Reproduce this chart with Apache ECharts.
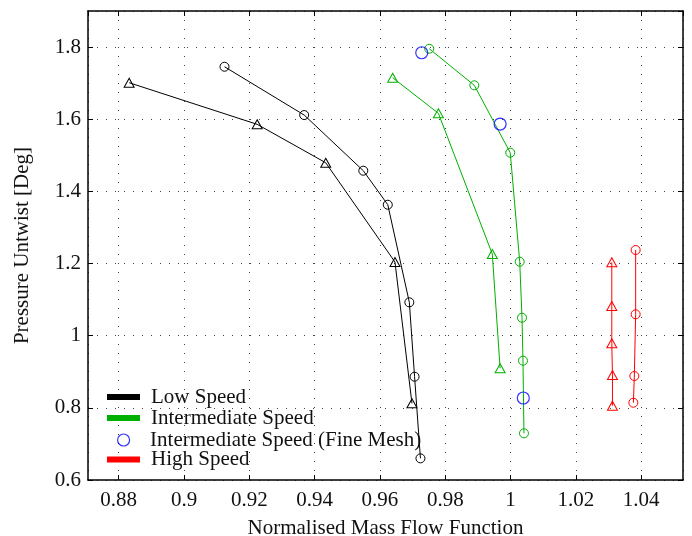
<!DOCTYPE html>
<html>
<head>
<meta charset="utf-8">
<title>Pressure Untwist</title>
<script src="https://cdn.jsdelivr.net/npm/echarts@6.0.0/dist/echarts.min.js"></script>
<style>
    html, body { margin: 0; padding: 0; background: #fff; }
    #main { width: 692px; height: 536px; }
</style>
</head>
<body>
<div id="main"></div>
<script>
// values
var lowCircX = [0.9124, 0.9368, 0.9549, 0.9624, 0.9690, 0.9706, 0.9724];
var lowCircY = [1.7455, 1.6116, 1.4573, 1.3630, 1.0925, 0.8863, 0.6600];
var lowTriX = [0.8832, 0.9224, 0.9434, 0.9646, 0.9698];
var lowTriY = [1.7012, 1.5859, 1.4794, 1.2042, 0.8126];

var midCircX = [0.9751, 0.9889, 0.9999, 1.0028, 1.0035, 1.0038, 1.0041];
var midCircY = [1.7954, 1.6940, 1.5072, 1.2050, 1.0498, 0.9307, 0.7294];
var midTriX = [0.9639, 0.9779, 0.9944, 0.9968];
var midTriY = [1.7150, 1.6164, 1.2264, 0.9096];

var fineX = [0.9728, 0.9968, 1.0039];
var fineY = [1.7843, 1.5867, 0.8273];

var highCircX = [1.0383, 1.0383, 1.0379, 1.0376];
var highCircY = [1.2375, 1.0593, 0.8882, 0.8142];
var highTriX = [1.0310, 1.0310, 1.0310, 1.0312, 1.0312];
var highTriY = [1.2034, 1.0823, 0.9789, 0.8910, 0.8060];

var xMin = 0.8706, xMax = 1.0528;
var yMin = 0.6, yMax = 1.9;

var FONT = "'Liberation Serif', 'Times New Roman', serif";
var FS = 21;
var BAR = 'path://M0 0h31v4h-31z';
var CLEAR = 'rgba(0,0,0,0)';

function zip(xs, ys) {
    var out = [];
    for (var i = 0; i < xs.length; i++)
        out.push([xs[i], ys[i]]);
    return out;
}

function curve(name, color, symbol, size, xs, ys) {
    return {
        name: name,
        type: 'line',
        data: zip(xs, ys),
        symbol: symbol,
        symbolSize: size,
        color: color,
        lineStyle: { color: color, width: 1 },
        itemStyle: { color: CLEAR, borderColor: color, borderWidth: 1 },
        emphasis: { disabled: true },
        z: 3
    };
}

function legendBox(left, top, height, textPad, items) {
    return {
        orient: 'vertical',
        left: left,
        top: top,
        padding: 0,
        itemWidth: 31,
        itemHeight: height,
        itemGap: 0,
        selectedMode: false,
        textStyle: { fontFamily: FONT, fontSize: FS, color: '#111', lineHeight: 21, padding: [0, 0, 0, textPad] },
        data: items
    };
}

var gridLine = { show: true, lineStyle: { color: '#444', width: 1, type: [1, 8] } };
var boxLine = { show: true, lineStyle: { color: '#000', width: 1.5 } };
var tick = { show: true, inside: true, length: 5, lineStyle: { color: '#000', width: 1 } };

var chartDom = document.getElementById('main');
var myChart = echarts.init(chartDom, null, { renderer: 'canvas' });

var option = {
    animation: false,
    backgroundColor: '#fff',
    textStyle: { fontFamily: FONT },
    grid: { left: 88, right: 9, top: 11, bottom: 56, containLabel: false, outerBoundsMode: 'none' },
    xAxis: [{
        type: 'value',
        min: xMin,
        max: xMax,
        splitNumber: 8,
        name: 'Normalised Mass Flow Function',
        nameLocation: 'middle',
        nameGap: 38,
        nameTextStyle: { fontFamily: FONT, fontSize: FS, color: '#111' },
        axisLine: boxLine,
        axisTick: tick,
        splitLine: gridLine,
        axisLabel: {
            fontFamily: FONT, fontSize: FS, color: '#111', margin: 10,
            showMinLabel: false, showMaxLabel: false
        }
    }, {
        type: 'value',
        position: 'top',
        min: xMin,
        max: xMax,
        splitNumber: 8,
        axisLine: boxLine,
        axisTick: tick,
        splitLine: { show: false },
        axisLabel: { show: false }
    }],
    yAxis: [{
        type: 'value',
        min: yMin,
        max: yMax,
        interval: 0.2,
        name: 'Pressure Untwist [Deg]',
        nameLocation: 'middle',
        nameGap: 55,
        nameTextStyle: { fontFamily: FONT, fontSize: FS, color: '#111' },
        axisLine: boxLine,
        axisTick: tick,
        splitLine: gridLine,
        axisLabel: {
            fontFamily: FONT, fontSize: FS, color: '#111', margin: 7,
            showMaxLabel: false
        }
    }, {
        type: 'value',
        position: 'right',
        min: yMin,
        max: yMax,
        interval: 0.2,
        axisLine: boxLine,
        axisTick: tick,
        splitLine: { show: false },
        axisLabel: { show: false }
    }],
    //three legends so the bar icons and the circle icon keep their own sizes
    legend: [
        legendBox(107, 386.5, 4, 7, [
            { name: 'Low Speed', icon: BAR, itemStyle: { color: '#000000' } },
            { name: 'Intermediate Speed', icon: BAR, itemStyle: { color: '#00b000' } }
        ]),
        legendBox(117, 429.5, 12, 6, [
            { name: 'Intermediate Speed (Fine Mesh)', icon: 'circle',
              itemStyle: { color: CLEAR, borderColor: '#0000ff', borderWidth: 1.2 } }
        ]),
        legendBox(107, 449, 4, 7, [
            { name: 'High Speed', icon: BAR, itemStyle: { color: '#ff0000' } }
        ])
    ],
    series: [
        curve('Low Speed', '#000000', 'circle', 9, lowCircX, lowCircY),
        curve('Low Speed', '#000000', 'triangle', [10, 9], lowTriX, lowTriY),
        curve('Intermediate Speed', '#00b000', 'circle', 9, midCircX, midCircY),
        curve('Intermediate Speed', '#00b000', 'triangle', [10, 9], midTriX, midTriY),
        {
            name: 'Intermediate Speed (Fine Mesh)',
            type: 'scatter',
            data: zip(fineX, fineY),
            symbol: 'circle',
            symbolSize: 12,
            itemStyle: { color: CLEAR, borderColor: '#0000ff', borderWidth: 1.2 },
            emphasis: { disabled: true },
            z: 4
        },
        curve('High Speed', '#ff0000', 'circle', 9, highCircX, highCircY),
        curve('High Speed', '#ff0000', 'triangle', [10, 9], highTriX, highTriY)
    ]
};

myChart.setOption(option);
</script>
</body>
</html>
